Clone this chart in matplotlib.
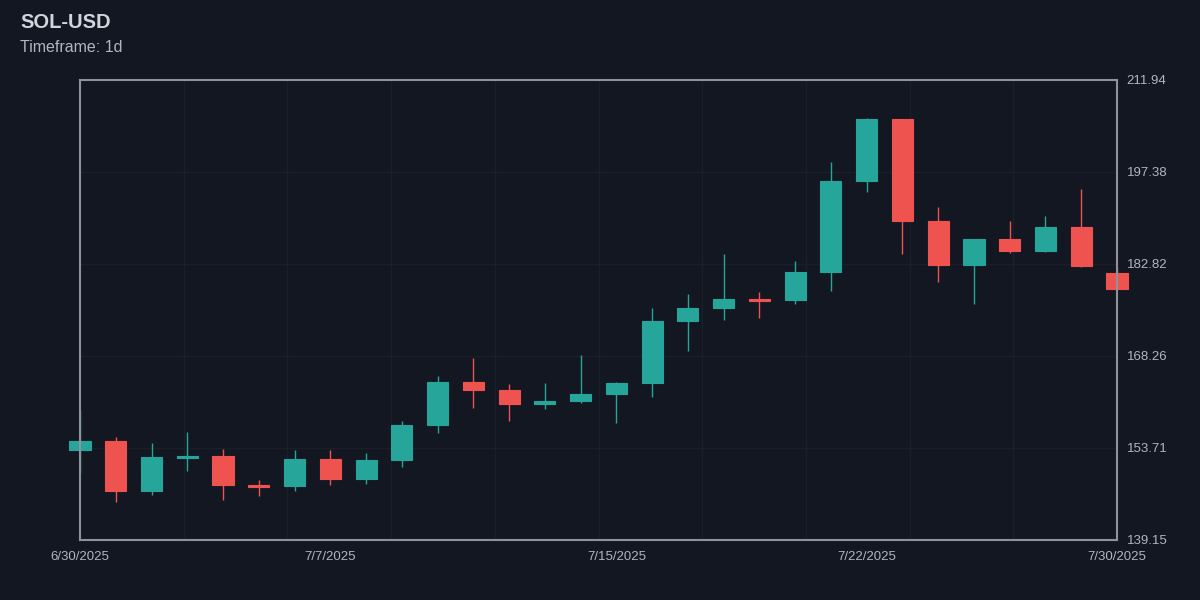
import matplotlib
matplotlib.use("Agg")
import matplotlib.pyplot as plt
from matplotlib.patches import Rectangle
import numpy as np

dates = ["6/30", "7/1", "7/2", "7/3", "7/4", "7/5", "7/6", "7/7", "7/8", "7/9",
         "7/10", "7/11", "7/12", "7/13", "7/14", "7/15", "7/16", "7/17", "7/18", "7/19",
         "7/20", "7/21", "7/22", "7/23", "7/24", "7/25", "7/26", "7/27", "7/28", "7/30"]
opens = [153.39, 154.77, 146.95, 152.20, 152.44, 147.80, 147.65, 151.92, 148.85, 151.81,
         157.30, 164.10, 162.89, 160.72, 161.19, 162.30, 163.95, 173.76, 175.81, 177.33,
         177.08, 181.56, 196.01, 205.72, 189.58, 182.62, 186.78, 184.93, 188.73, 181.35]
highs = [159.72, 155.40, 154.45, 156.24, 153.55, 148.64, 153.39, 153.34, 152.87, 157.93,
         165.10, 167.95, 163.84, 163.99, 168.38, 164.15, 175.81, 178.08, 184.41, 178.35,
         183.30, 198.92, 205.93, 205.80, 191.89, 186.80, 189.63, 190.42, 194.69, 182.40]
lows = [149.75, 145.21, 146.27, 150.12, 145.48, 146.11, 146.95, 147.80, 147.96, 150.75,
        156.13, 160.09, 158.03, 159.93, 160.78, 157.62, 161.73, 169.11, 173.96, 174.33,
        176.54, 178.55, 194.27, 184.36, 179.98, 176.45, 184.62, 184.72, 182.40, 178.82]
closes = [154.77, 146.95, 152.23, 152.40, 147.80, 147.60, 151.92, 148.85, 151.81, 157.30,
          164.10, 162.93, 160.72, 161.19, 162.25, 163.95, 173.76, 175.81, 177.33, 177.02,
          181.51, 196.01, 205.72, 189.58, 182.62, 186.78, 184.93, 188.73, 182.56, 178.82]

x_tick_idx = [0, 7, 15, 22, 29]
x_tick_labels = ["6/30/2025", "7/7/2025", "7/15/2025", "7/22/2025", "7/30/2025"]
y_limits = [139.148, 211.938]
y_tick_labels = ["139.15", "153.71", "168.26", "182.82", "197.38", "211.94"]

BG = "#131722"
UP = "#26a69a"
DOWN = "#ef5350"
GRID = "#1b1f2a"
FRAME = "#8f929b"
TXT = "#b2b5be"

plt.rcParams['font.family'] = ['Liberation Sans', 'DejaVu Sans']

fig = plt.figure(figsize=(12, 6), dpi=100, facecolor=BG)
ax = fig.add_axes([80 / 1200, 60 / 600, 1037 / 1200, 460 / 600])
ax.set_facecolor(BG)

n = len(dates)
xs = np.arange(n)
ax.set_xlim(0, n - 1)
ax.set_ylim(*y_limits)

# grid
for gx in np.linspace(0, n - 1, 11)[1:-1]:
    ax.axvline(gx, color=GRID, lw=1.0, zorder=0)
yt = np.linspace(y_limits[0], y_limits[1], 6)
for gy in yt[1:-1]:
    ax.axhline(gy, color=GRID, lw=1.0, zorder=0)

w = 0.59
for i in range(n):
    o, h, l, c = opens[i], highs[i], lows[i], closes[i]
    col = UP if c >= o else DOWN
    ax.plot([xs[i], xs[i]], [l, h], color=col, lw=1.0, zorder=2, clip_on=False,
            solid_capstyle='butt')
    bot = min(o, c)
    ht = max(abs(c - o), 0.25)
    ax.add_patch(Rectangle((xs[i] - w / 2, bot), w, ht, facecolor=col,
                           edgecolor=col, lw=0.8, zorder=3, clip_on=False))

for s in ax.spines.values():
    s.set_color(FRAME)
    s.set_linewidth(1.5)
    s.set_zorder(5)

ax.set_xticks(x_tick_idx)
ax.set_xticklabels(x_tick_labels)
ax.set_yticks(yt)
ax.set_yticklabels(y_tick_labels)
ax.yaxis.tick_right()
ax.tick_params(axis='both', length=0, colors=TXT, labelsize=9.5)
ax.tick_params(axis='x', pad=8)
ax.tick_params(axis='y', pad=7)

fig.text(20 / 1200, 1 - 22 / 600, "SOL-USD", color="#d1d4dc", fontsize=14.5,
         fontweight='bold', va='center', ha='left')
fig.text(20 / 1200, 1 - 48 / 600, "Timeframe: 1d", color=TXT, fontsize=11.5,
         va='center', ha='left')

fig.savefig("out.png", dpi=100, facecolor=BG)
